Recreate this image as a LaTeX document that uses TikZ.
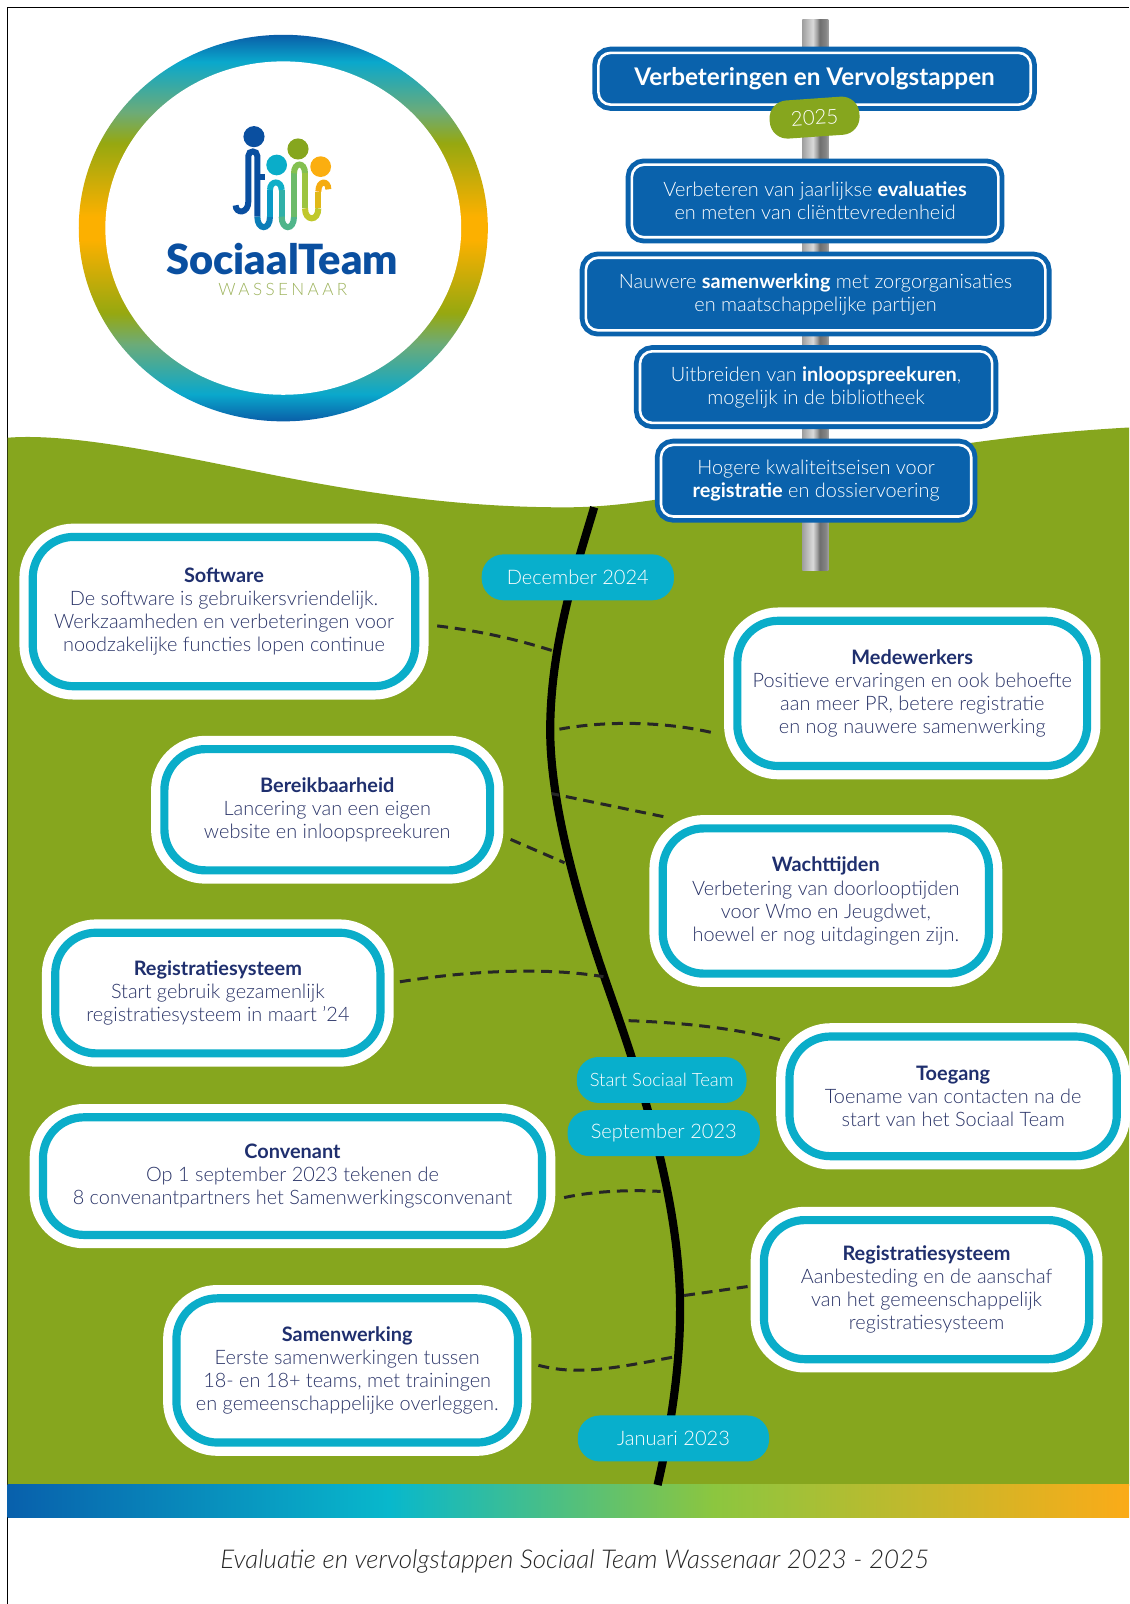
\documentclass[tikz,border=0pt]{standalone}
\usepackage{fontspec}
\setmainfont{Lato}[UprightFont=* Light, ItalicFont=* Light Italic, BoldFont=* Bold]
\newfontfamily\logofont{Lato Black}
\usetikzlibrary{calc}
\definecolor{grass}{HTML}{86A61E}
\definecolor{signblue}{HTML}{0A62AC}
\definecolor{cardcyan}{HTML}{0AADC9}
\definecolor{pillcyan}{HTML}{08AFCC}
\definecolor{navy}{HTML}{1F2F6E}
\definecolor{bodyink}{HTML}{2A3468}
\definecolor{logoblue}{HTML}{0A4FA0}
\definecolor{logogreen}{HTML}{9DB35C}
\definecolor{rdark}{HTML}{0A5EA8}
\definecolor{rcyan}{HTML}{0AA8CC}
\definecolor{rteal}{HTML}{6CAB78}
\definecolor{rolive}{HTML}{96A810}
\definecolor{rorange}{HTML}{FCB000}
\definecolor{bblue}{HTML}{0860AC}
\definecolor{bcyan}{HTML}{08B8CC}
\definecolor{bgreen}{HTML}{8CC63F}
\definecolor{borange}{HTML}{FBAB18}
\definecolor{pa}{HTML}{A0A0A0}
\definecolor{pb}{HTML}{DADADA}
\definecolor{pc}{HTML}{6E6E6E}
\definecolor{pd}{HTML}{858585}
\definecolor{horange}{HTML}{FBAE10}
\pgfdeclareverticalshading{ringshade}{100bp}{
 color(0bp)=(rdark);
 color(25bp)=(rdark);
 color(28.5bp)=(rcyan);
 color(35bp)=(rteal);
 color(39bp)=(rolive);
 color(48.5bp)=(rorange);
 color(51.5bp)=(rorange);
 color(61bp)=(rolive);
 color(65bp)=(rteal);
 color(71.5bp)=(rcyan);
 color(75bp)=(rdark);
 color(100bp)=(rdark)}
\pgfdeclarehorizontalshading{barshade}{100bp}{
 color(0bp)=(bblue);
 color(25bp)=(bblue);
 color(42bp)=(bcyan);
 color(56.5bp)=(bgreen);
 color(75bp)=(borange);
 color(100bp)=(borange)}
\pgfdeclarehorizontalshading{poleshade}{100bp}{
 color(0bp)=(pa);
 color(25bp)=(pa);
 color(45bp)=(pb);
 color(53bp)=(pa);
 color(58bp)=(pc);
 color(70bp)=(pd);
 color(75bp)=(pa);
 color(100bp)=(pa)}
\newcommand{\fsz}[2]{\fontsize{#1}{#2}\selectfont}
\tikzset{
 x=0.75pt,y=-0.75pt,
 cardbox/.style={draw=cardcyan,line width=6pt,fill=white,rounded corners=30pt,
   preaction={draw=white,line width=19.5pt},
   align=center,inner sep=0pt,text=bodyink,font=\fsz{14.6}{16.9}},
 signbox/.style={draw=white,line width=1.9pt,fill=signblue,rounded corners=9pt,
   preaction={draw=signblue,line width=9pt},
   align=center,inner sep=0pt,text=white,font=\fsz{14.6}{16.9}},
 pill/.style={fill=pillcyan,rounded corners=16pt,inner sep=0pt,text=white,font=\fsz{14.7}{16},
   minimum height=33.7pt},
 conn/.style={line width=2.2pt,draw=black!85,dash pattern=on 8pt off 5pt},
 stroke/.style={line width=4.4pt,line cap=butt},
 head/.style={circle,inner sep=0pt},
}
\newcommand{\ttl}[1]{{\bfseries\color{navy}#1}}
\begin{document}
\begin{tikzpicture}
\useasboundingbox (0,0) rectangle (1104,1568.4);
\fill[white] (0,0) rectangle (1104,1568.4);
% frame
\draw[line width=0.75pt] (7.5,1568.4) -- (7.5,7.5) -- (1104,7.5);
% ground
\fill[grass] (7.5,1453) -- (7.5,428) .. controls (70,423) and (170,445) .. (260,463)
  .. controls (350,481) and (450,497) .. (560,496)
  .. controls (690,494) and (850,432) .. (1104,418) -- (1104,1453) -- cycle;
\shade[shading=barshade] (7.5,1452) rectangle (1104,1484);
% logo ring
\shade[shading=ringshade] (277,223) ellipse [x radius=200,y radius=189];
\fill[white] (277,223) ellipse [x radius=174,y radius=163];
% logo figure
\begin{scope}[shift={(215.1,117.3)},x=0.2445pt,y=-0.2445pt]
 \node[head,fill=logoblue,minimum size=15.5pt] (h1) at (102,50) {};
 \node[head,fill=cardcyan,minimum size=15.2pt] (h2) at (170,135) {};
 \node[head,fill=grass,minimum size=15.5pt] (h3) at (234,87) {};
 \node[head,fill=horange,minimum size=15.2pt] (h4) at (302,140) {};
 \draw[stroke,color=logoblue] (47,256) .. controls (47,282) and (85,282) .. (85,245) -- (85,108) .. controls (85,90) and (112,90) .. (112,108) -- (112,290);
 \draw[stroke,color=logoblue] (112,172) -- (134,172);
 \draw[stroke,color={rgb,255:red,11;green,125;blue,184}] (112,290) .. controls (112,332) and (150,332) .. (150,290);
 \draw[stroke,color={rgb,255:red,10;green,154;blue,198}] (150,290) -- (150,210);
 \draw[stroke,color={rgb,255:red,16;green,175;blue,200}] (150,210) .. controls (150,180) and (185,180) .. (185,210);
 \draw[stroke,color={rgb,255:red,48;green,176;blue,168}] (185,210) -- (185,290);
 \draw[stroke,color={rgb,255:red,80;green,181;blue,138}] (185,290) .. controls (185,332) and (222,332) .. (222,290);
 \draw[stroke,color={rgb,255:red,108;green,187;blue,106}] (222,290) -- (222,160);
 \draw[stroke,color={rgb,255:red,132;green,192;blue,80}] (222,160) .. controls (222,125) and (255,125) .. (255,160);
 \draw[stroke,color={rgb,255:red,156;green,196;blue,64}] (255,160) -- (255,265);
 \draw[stroke,color={rgb,255:red,192;green,200;blue,44}] (255,265) .. controls (255,305) and (295,305) .. (295,265);
 \draw[stroke,color={rgb,255:red,224;green,184;blue,24}] (295,265) -- (295,215);
 \draw[stroke,color={rgb,255:red,245;green,172;blue,16}] (295,215) .. controls (295,180) and (325,180) .. (325,208);
\end{scope}
\node[text=logoblue,font=\logofont\fsz{30.5}{31},inner sep=0pt] (logotext) at (276,253) {SociaalTeam};
\node[text=logogreen,font=\fsz{12.5}{14}\addfontfeature{LetterSpace=20},inner sep=0pt] (logosub) at (276.5,283) {WASSENAAR};
% pole
\shade[shading=poleshade] (784.6,19.5) rectangle (810,558);
% signs
\node[signbox,minimum width=317pt,minimum height=38pt,font=\bfseries\fsz{17.8}{20}] (s0) at (796.5,77) {Verbeteringen en Vervolgstappen};
\node[fill=grass,rounded corners=13pt,minimum width=66pt,minimum height=28pt,inner sep=0pt,rotate=4,text=white,font=\fsz{15}{18}] (y25) at (796.5,115) {2025};
\node[signbox,minimum width=268.75pt,minimum height=53.25pt] (s1) at (797,196.5) {Verbeteren van jaarlijkse \textbf{evaluaties}\\en meten van cliënttevredenheid};
\node[signbox,minimum width=337pt,minimum height=53.25pt] (s2) at (797.5,287.5) {Nauwere \textbf{samenwerking} met zorgorganisaties\\en maatschappelijke partijen};
\node[signbox,minimum width=258.25pt,minimum height=52.5pt] (s3) at (798,378.5) {Uitbreiden van \textbf{inloopspreekuren},\\mogelijk in de bibliotheek};
\node[signbox,minimum width=227.5pt,minimum height=52.5pt] (s4) at (798,470) {Hogere kwaliteitseisen voor\\\textbf{registratie} en dossiervoering};
% timeline
\draw[line width=6pt] (581,496) .. controls (565,550) and (538,630) .. (538,714)
  .. controls (538,790) and (568,890) .. (596,970)
  .. controls (624,1050) and (665,1170) .. (665,1280)
  .. controls (665,1340) and (655,1400) .. (643,1452);
\coordinate (tSoft) at (539.5,636);
\coordinate (tMede) at (547,713);
\coordinate (tWach) at (539.5,776);
\coordinate (tBere) at (552,843.6);
\coordinate (tRegl) at (590,955);
\coordinate (tToeg) at (614.6,998);
\coordinate (tConv) at (646,1165);
\coordinate (tRegr) at (667,1267);
\coordinate (tSame) at (658,1327);
% pills
\node[pill,minimum width=141pt] (pDec) at (565,564.5) {December 2024};
\node[pill,minimum width=124.5pt,font=\fsz{13.5}{15}] (pStart) at (647,1056) {Start Sociaal Team};
\node[pill,minimum width=141pt] (pSep) at (649,1108) {September 2023};
\node[pill,minimum width=140.25pt] (pJan) at (658.5,1406.5) {Januari 2023};
% cards
\node[cardbox,minimum width=280.5pt,minimum height=109.5pt] (soft) at (219,598) {\ttl{Software}\\De software is gebruikersvriendelijk.\\Werkzaamheden en verbeteringen voor\\noodzakelijke functies lopen continue};
\node[cardbox,minimum width=256.5pt,minimum height=106.5pt] (mede) at (892,678) {\ttl{Medewerkers}\\Positieve ervaringen en ook behoefte\\aan meer PR, betere registratie\\en nog nauwere samenwerking};
\node[cardbox,minimum width=238.9pt,minimum height=88.9pt] (bere) at (320,791.75) {\ttl{Bereikbaarheid}\\Lancering van een eigen\\website en inloopspreekuren};
\node[cardbox,minimum width=239.25pt,minimum height=106.5pt] (wach) at (807.5,881) {\ttl{Wachttijden}\\Verbetering van doorlooptijden\\voor Wmo en Jeugdwet,\\hoewel er nog uitdagingen zijn.};
\node[cardbox,minimum width=238.5pt,minimum height=88.5pt] (regl) at (213,971) {\ttl{Registratiesysteem}\\Start gebruik gezamenlijk\\registratiesysteem in maart ’24};
\node[cardbox,minimum width=240pt,minimum height=87.75pt] (toeg) at (932,1072) {\ttl{Toegang}\\Toename van contacten na de\\start van het Sociaal Team};
\node[cardbox,minimum width=366pt,minimum height=86.25pt] (conv) at (286,1150) {\ttl{Convenant}\\Op 1 september 2023 tekenen de\\8 convenantpartners het Samenwerkingsconvenant};
\node[cardbox,minimum width=238.5pt,minimum height=102pt] (regr) at (906,1261) {\ttl{Registratiesysteem}\\Aanbesteding en de aanschaf\\van het gemeenschappelijk\\registratiesysteem};
\node[cardbox,minimum width=250.5pt,minimum height=105.75pt] (same) at (339.5,1340) {\ttl{Samenwerking}\\Eerste samenwerkingen tussen\\18- en 18+ teams, met trainingen\\en gemeenschappelijke overleggen.};
% connectors
\draw[conn] ($(soft.east)+(17.5,14)$) .. controls +(42,5) and +(-35,-11) .. (tSoft);
\draw[conn] ($(mede.west)+(-22,38)$) .. controls +(-49,-11) and +(43,-8) .. (tMede);
\draw[conn] ($(wach.north west)+(4.6,-7.5)$) -- (tWach);
\draw[conn] ($(bere.east)+(16,29)$) -- (tBere);
\draw[conn] ($(regl.east)+(15,-11)$) .. controls +(62,-10) and +(-60,-10) .. (tRegl);
\draw[conn] ($(toeg.north west)+(-5.5,7)$) .. controls +(-45,-11) and +(55,2) .. (tToeg);
\draw[conn] ($(conv.east)+(17.6,21)$) .. controls +(27,-6) and +(-31,-2) .. (tConv);
\draw[conn] ($(regr.west)+(-12,-3)$) -- (tRegr);
\draw[conn] ($(same.east)+(16,-5)$) .. controls +(38,10) and +(-58,11) .. (tSame);
% caption
\node[font=\itshape\fsz{19}{22},text=black!85,inner sep=0pt] (cap) at (562,1527) {Evaluatie en vervolgstappen Sociaal Team Wassenaar 2023 - 2025};
\end{tikzpicture}
\end{document}
